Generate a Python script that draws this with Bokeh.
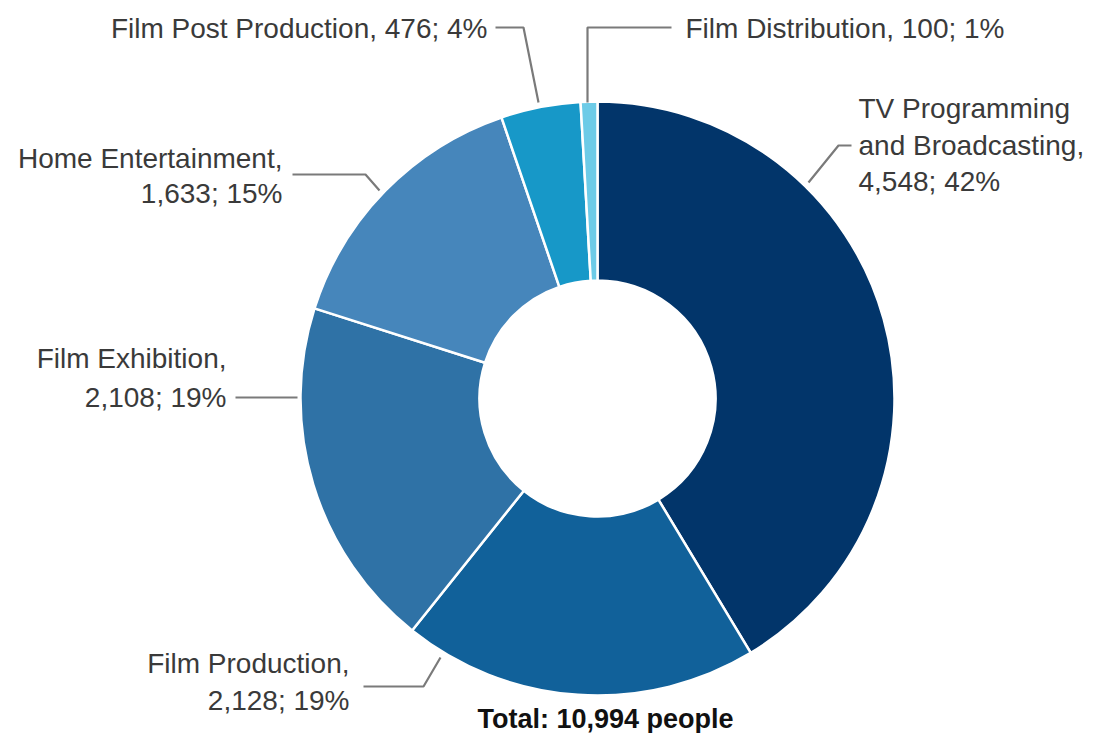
import math
from bokeh.plotting import figure
from bokeh.models import Range1d, ColumnDataSource
from bokeh.core.properties import value
from bokeh.embed import file_html
from bokeh.resources import INLINE

# ---- data ----
categories = ["TV Programming and Broadcasting", "Film Production", "Film Exhibition",
              "Home Entertainment", "Film Post Production", "Film Distribution"]
values = [4548, 2128, 2108, 1633, 476, 100]
percents = [42, 19, 19, 15, 4, 1]
colors = ["#02356a", "#11619a", "#2f72a6", "#4686bb", "#1798c8", "#6dcbe7"]
total_label = "Total: 10,994 people"

# how each label is broken into lines (name part)
name_lines = [["TV Programming", "and Broadcasting,"], ["Film Production,"], ["Film Exhibition,"],
              ["Home Entertainment,"], ["Film Post Production,"], ["Film Distribution,"]]
single_line = [False, False, False, False, True, True]

W, H = 1086, 733
def Y(ry):
    return H - ry

p = figure(width=W, height=H, output_backend="svg", toolbar_location=None,
           x_range=Range1d(0, W), y_range=Range1d(0, H),
           min_border=0)
p.axis.visible = False
p.grid.visible = False
p.outline_line_color = None
p.background_fill_color = "white"

# ---- donut ----
cx, cy = 597, Y(398)
tot = sum(values)
starts, ends = [], []
cum = 0
for v in values:
    starts.append(math.pi / 2 - 2 * math.pi * cum / tot)
    cum += v
    ends.append(math.pi / 2 - 2 * math.pi * cum / tot)
src = ColumnDataSource(dict(start=starts, end=ends, color=colors, cat=categories))
p.annular_wedge(x=cx, y=cy, inner_radius=118, outer_radius=297,
                start_angle="start", end_angle="end", direction="clock",
                fill_color="color", line_color="white", line_width=2.5, source=src)

# ---- leader lines (pixel positions) ----
leaders = [
    [(808, 182), (838, 145), (851, 145)],
    [(440, 657), (423, 686), (363, 686)],
    [(297, 397), (235, 397)],
    [(379, 190), (365, 174), (292, 174)],
    [(538, 102), (523, 27), (495, 27)],
    [(587, 102), (587, 27), (671, 27)],
]
p.multi_line(xs=[[a for a, b in L] for L in leaders], ys=[[Y(b) for a, b in L] for L in leaders],
             line_color="#7a7a7a", line_width=2.2)

# ---- labels ----
label_anchor = [(858, "left", [108, 145, 181]),
                (349, "right", [663, 700]),
                (226, "right", [358, 397]),
                (282, "right", [158, 193]),
                (487, "right", [28]),
                (685, "left", [28])]
tx, ty, tt, ta = [], [], [], []
for i, cat in enumerate(categories):
    numtxt = f"{values[i]:,}; {percents[i]}%"
    if single_line[i]:
        lines = [name_lines[i][0] + " " + numtxt]
    else:
        lines = name_lines[i] + [numtxt]
    x, align, ys = label_anchor[i]
    for ln, yy in zip(lines, ys):
        tx.append(x); ty.append(Y(yy)); tt.append(ln); ta.append(align)
lsrc = ColumnDataSource(dict(x=tx, y=ty, text=tt, align=ta))
p.text(x="x", y="y", text="text", text_align="align", text_baseline="middle",
       text_font=value("Liberation Sans"), text_font_size="28px", text_color="#3a3a3a",
       source=lsrc)

p.text(x=[605], y=[Y(718)], text=[total_label], text_align="center", text_baseline="middle",
       text_font=value("Liberation Sans"), text_font_size="27px", text_font_style="bold",
       text_color="#111111")

open("out.html", "w").write(file_html(p, INLINE))
